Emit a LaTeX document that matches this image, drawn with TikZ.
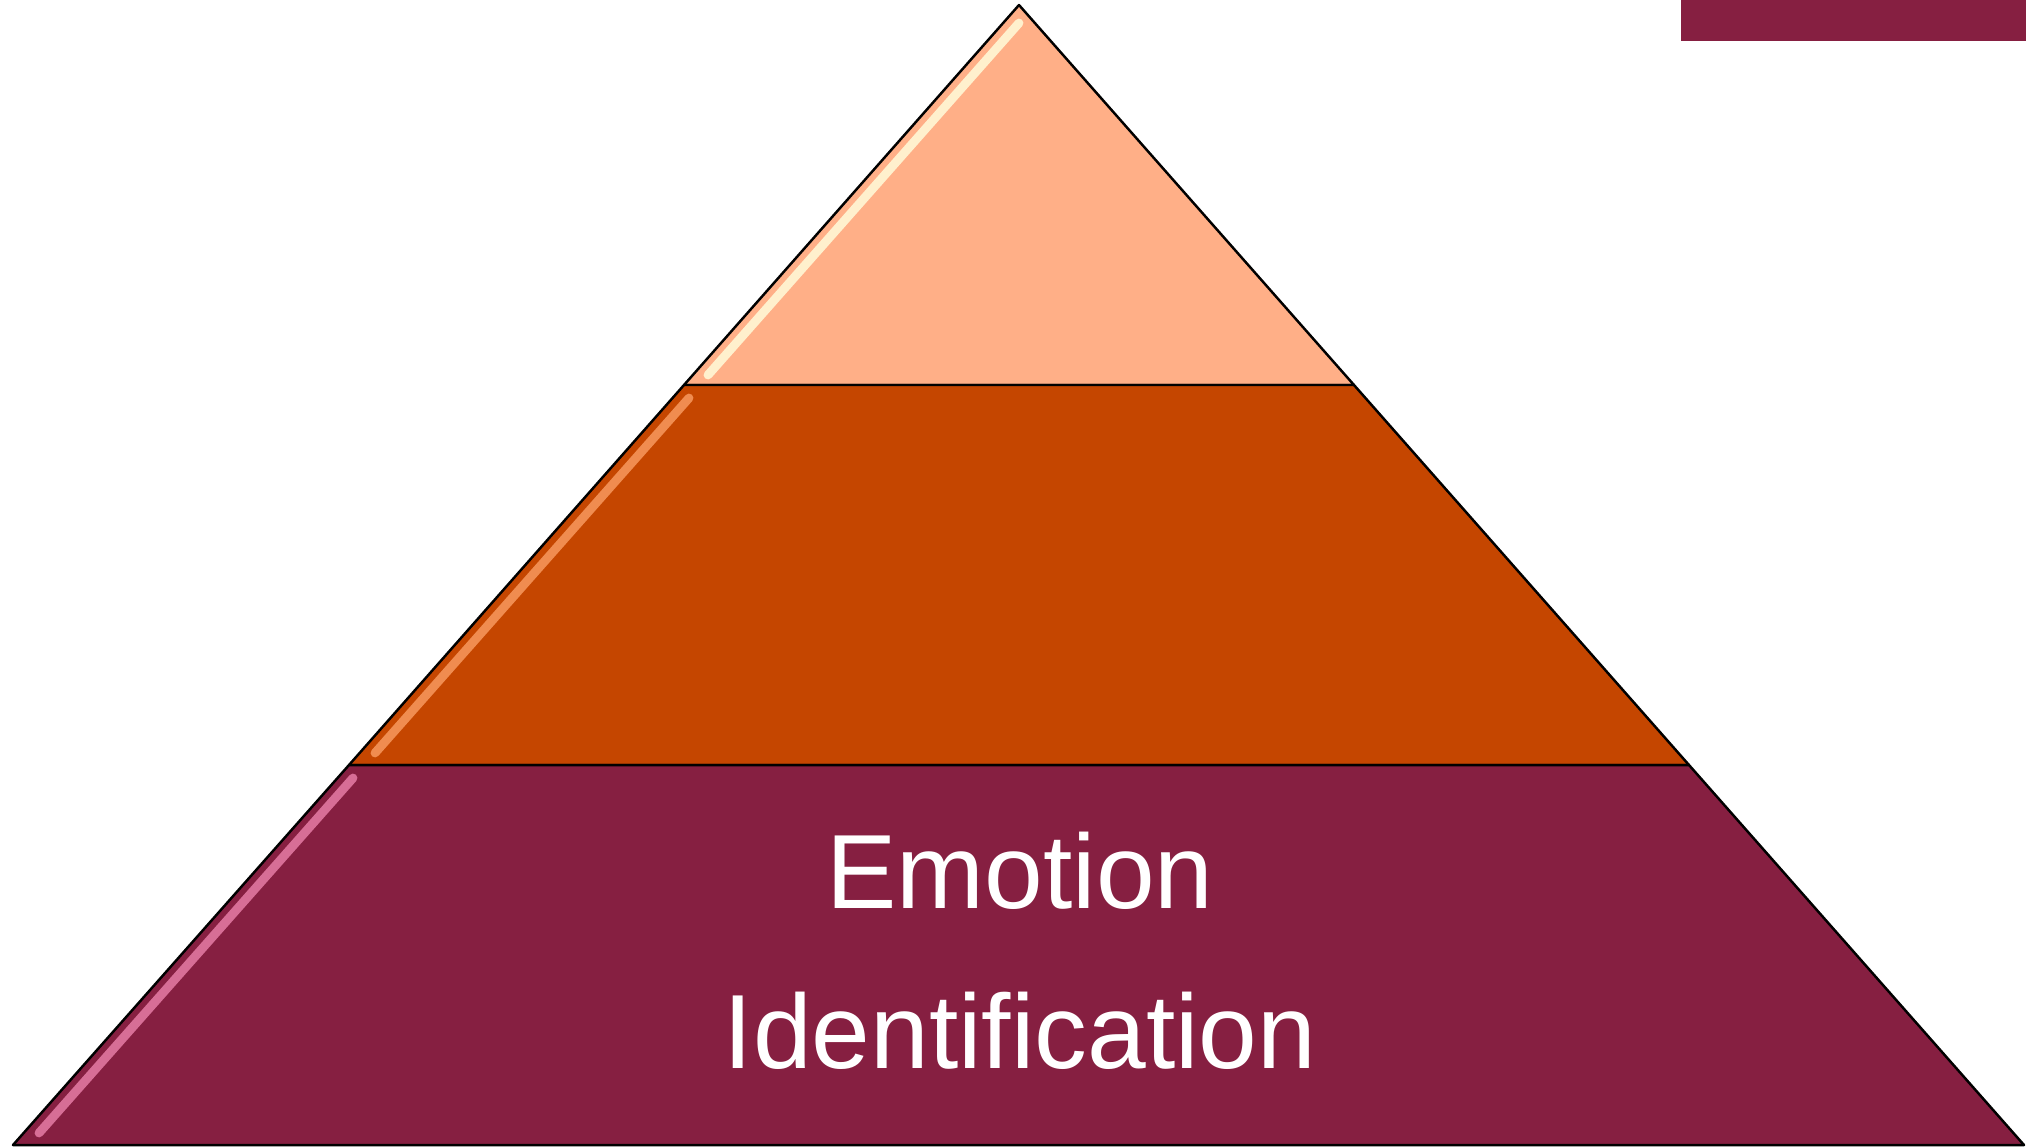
\documentclass[tikz,border=0pt]{standalone}
\usepackage{fontspec}
\setmainfont{Liberation Sans}
\definecolor{peach}{RGB}{255,175,135}
\definecolor{rust}{RGB}{197,70,0}
\definecolor{wine}{RGB}{134,31,65}
\definecolor{cream}{RGB}{255,240,205}
\definecolor{glow}{RGB}{240,140,80}
\definecolor{rose}{RGB}{215,110,150}
\begin{document}
\begin{tikzpicture}[x=0.01cm, y=-0.01cm,
  tier/.style={draw=black, line width=0.7pt, line join=round},
  gloss/.style={line width=2.5pt, line cap=round},
  tierlabel/.style={text=white, font=\fontsize{30}{45.5}\selectfont, align=center, inner sep=0pt},
]
\useasboundingbox (0,0) rectangle (2026,1147);
% corners of the pyramid
\coordinate (apex) at (1019,5);
\coordinate (t1l) at (684,385);
\coordinate (t1r) at (1354,385);
\coordinate (t2l) at (349,765);
\coordinate (t2r) at (1689,765);
\coordinate (bl) at (13,1145);
\coordinate (br) at (2024,1145);
% bar top right
\fill[wine] (1681,0) rectangle (2026,41);
% tiers
\filldraw[tier, fill=peach] (apex) -- (t1r) -- (t1l) -- cycle;
\filldraw[tier, fill=rust] (t1l) -- (t1r) -- (t2r) -- (t2l) -- cycle;
\filldraw[tier, fill=wine] (t2l) -- (t2r) -- (br) -- (bl) -- cycle;
% highlights
\draw[gloss, cream] (1019,23) -- (708,375);
\draw[gloss, glow] (689,398) -- (375,753);
\draw[gloss, rose] (353,778) -- (39,1133);
\node[tierlabel] (base) at (1020,951) {Emotion\\Identification};
\end{tikzpicture}
\end{document}
